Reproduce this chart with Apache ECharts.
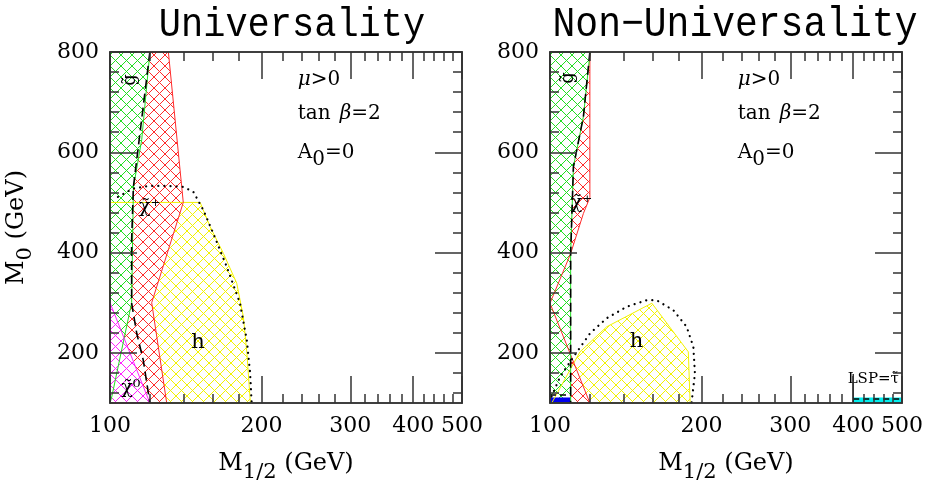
<!DOCTYPE html>
<html><head><meta charset="utf-8">
<script src="https://cdn.jsdelivr.net/npm/echarts@6/dist/echarts.min.js"></script>
<style>html,body{margin:0;padding:0;background:#fff}#c{width:927px;height:485px}</style>
</head><body><div id="c"></div>
<script>
// ---------- tick labels ----------
const xMajorTicks = [100, 200, 300, 400, 500];
const xMinorTicks = [120, 140, 160, 180, 220, 240, 260, 280, 320, 340, 360, 380, 420, 440, 460, 480];
const yMajorTicks = [200, 400, 600, 800];
const yMinorTicks = [120, 160, 240, 280, 320, 360, 440, 480, 520, 560, 640, 680, 720, 760];
const panelTitles = ['Universality', 'Non\u2212Universality'];

// ---------- Universality panel (M1/2, M0) ----------
const uniYellow = [[100,500],[151,500],[158,452],[168,398],[178.5,339],[184,272],[187,199],[190,100],[100,100]];
const uniRed = [[100,800],[130.6,800],[139.8,500],[121,300],[129.6,100],[100,100]];
const uniGreen = [[100,800],[120,800],[115.6,625],[111.3,530],[110.4,300],[100.8,112],[100,100]];
const uniMagenta = [[100,300],[120,100],[100,100]];
const uniDashed = [[120,800],[116.4,691],[111.3,531],[110.4,425],[110.4,299],[113,239],[116.4,186],[120,100]];
const uniDotted = [[103.7,511],[111.2,528],[120,533],[129.6,533],[139.8,531],[146.4,521],[153.2,485],[160.4,438],[170.5,372],[181.2,299],[186.9,226],[189.8,159],[191.1,100]];

// ---------- Non-Universality panel ----------
const nonYellow = [[100.8,100],[114.7,202],[129.6,252],[159.3,299],[188.2,202],[189.8,100]];
const nonRed = [[100,800],[120,800],[120,510],[116.5,478],[109.9,398],[100,299],[120,100],[100,100]];
const nonGreen = [[100,800],[120.1,800],[116.5,671],[111.3,571],[109.9,398],[109.9,100],[100,100]];
const nonBlue = [[100,100],[109.9,100],[109.9,111],[100,111]];
const nonCyan = [[400,100],[500,100],[500,111],[400,111]];
const nonDashed = [[120,800],[116.5,671],[111.3,571],[109.9,398],[109.9,100]];
const nonDotted = [[100.7,113],[104.7,152],[111.3,192],[120.1,239],[129.6,269],[142,292],[155.6,305],[162.8,305],[175.8,285],[186.8,252],[192.6,212],[194,159],[191,100]];
const nonStauDashed = [[400,108],[500,108]];
const nonStauEdge = [[400,100],[400,158]];
const nonBlueDashed = [[100,116],[109.9,116]];

// ---------- label anchor positions (data coords) ----------
const paramTextPos = [[236,744],[236,676],[236,586]];
const uniGluinoPos = [109.6,744], uniCharPos = [120,491], uniHPos = [149.5,221], uniNeutPos = [110,130];
const nonGluinoPos = [108.6,748], nonCharPos = [115.5,499], nonHPos = [148.6,222], nonLspPos = [390,148];

const SERIF = '"DejaVu Serif", "Liberation Serif", serif';
const AXC = '#333';

function hatch(color) {
  const s = 11, c = document.createElement('canvas');
  c.width = s; c.height = s;
  const g = c.getContext('2d');
  g.fillStyle = '#fff'; g.fillRect(0, 0, s, s);
  g.strokeStyle = color; g.lineWidth = 1;
  g.beginPath();
  g.moveTo(-1, -1); g.lineTo(s + 1, s + 1);
  g.moveTo(s + 1, -1); g.lineTo(-1, s + 1);
  g.stroke();
  return { image: c, repeat: 'repeat' };
}

function polyFill(pts, fill, xi, yi, z) {
  return { type: 'custom', xAxisIndex: xi, yAxisIndex: yi, z: z, silent: true, data: pts,
    renderItem: (p, api) => p.dataIndex !== 0 ? null : {
      type: 'polygon', shape: { points: pts.map(d => api.coord(d)) },
      style: { fill: fill, stroke: null } } };
}
function outline(pts, color, xi, yi, z, closed) {
  const d = closed ? pts.concat([pts[0]]) : pts;
  return { type: 'line', xAxisIndex: xi, yAxisIndex: yi, z: z, silent: true, symbol: 'none', data: d,
    lineStyle: { color: color, width: 1 }, animation: false };
}
function styledLine(pts, xi, yi, style) {
  return { type: 'line', xAxisIndex: xi, yAxisIndex: yi, z: 6, silent: true, symbol: 'none', data: pts,
    lineStyle: style, animation: false };
}
function labels(items, xi, yi) {
  return { type: 'custom', xAxisIndex: xi, yAxisIndex: yi, z: 8, silent: true, clip: false,
    data: items.map(it => it.pos),
    renderItem: (p, api) => {
      const it = items[p.dataIndex];
      const c = api.coord(it.pos);
      return { type: 'text', x: c[0], y: c[1], rotation: it.rot || 0,
        style: Object.assign({ text: it.text, font: '20px ' + SERIF, fill: '#000',
          align: it.align || 'center', verticalAlign: 'middle' }, it.style || {}) };
    } };
}

const rich = {
  m: { fontFamily: SERIF, fontSize: 24, color: '#000', height: 26, lineHeight: 26, verticalAlign: 'top' },
  s: { fontFamily: SERIF, fontSize: 21, color: '#000', height: 44, lineHeight: 44, verticalAlign: 'top' }
};
const paramRich = {
  t: { fontFamily: SERIF, fontSize: 20, color: '#000', height: 22, lineHeight: 22, verticalAlign: 'top' },
  w: { fontFamily: SERIF, fontSize: 20, color: '#000', height: 22, lineHeight: 22, verticalAlign: 'top', width: 42 },
  i: { fontFamily: SERIF, fontSize: 20, fontStyle: 'italic', color: '#000', height: 22, lineHeight: 22, verticalAlign: 'top' },
  s: { fontFamily: SERIF, fontSize: 20, color: '#000', height: 36, lineHeight: 36, verticalAlign: 'top' }
};

function paramItems() {
  return [
    { pos: paramTextPos[0], text: '{i|\u03bc}{t|>0}', align: 'left', style: { rich: paramRich } },
    { pos: paramTextPos[1], text: '{w|tan}{i|\u03b2}{t|=2}', align: 'left', style: { rich: paramRich } },
    { pos: paramTextPos[2], text: '{t|A}{s|0}{t|=0}', align: 'left', style: { rich: paramRich } }
  ];
}

const grids = [
  { left: 110, top: 52, width: 352, height: 351, outerBoundsMode: 'none' },
  { left: 550, top: 52, width: 352, height: 351, outerBoundsMode: 'none' }
];

const xAxes = [], yAxes = [];
[0, 1].forEach(gi => {
  const xb = { type: 'log', logBase: 10, min: 100, max: 500, gridIndex: gi, z: 10,
    splitLine: { show: false }, axisLine: { show: true, lineStyle: { color: AXC, width: 1.5 } } };
  const tk = (vals, len) => ({ show: true, inside: true, length: len, customValues: vals, lineStyle: { color: AXC, width: 1.5 } });
  xAxes.push(Object.assign({}, xb, { position: 'bottom', axisTick: tk(xMajorTicks, 27),
    axisLabel: { show: true, customValues: xMajorTicks, margin: 12, fontFamily: SERIF, fontSize: 22, color: '#000',
      formatter: v => String(Math.round(v)) },
    name: '{m|M}{s|1/2}{m| (GeV)}', nameLocation: 'middle', nameGap: 48, nameTextStyle: { rich: rich } }));
  xAxes.push(Object.assign({}, xb, { position: 'top', axisTick: tk(xMajorTicks, 27), axisLabel: { show: false } }));
  xAxes.push(Object.assign({}, xb, { position: 'bottom', axisTick: tk(xMinorTicks, 9), axisLabel: { show: false } }));
  xAxes.push(Object.assign({}, xb, { position: 'top', axisTick: tk(xMinorTicks, 9), axisLabel: { show: false } }));

  const yb = { type: 'value', min: 100, max: 800, gridIndex: gi, z: 10,
    splitLine: { show: false }, axisLine: { show: true, lineStyle: { color: AXC, width: 1.5 } } };
  const ya = Object.assign({}, yb, { position: 'left', axisTick: tk(yMajorTicks, 27),
    axisLabel: { show: true, customValues: yMajorTicks, margin: 11, fontFamily: SERIF, fontSize: 22, color: '#000' } });
  if (gi === 0) Object.assign(ya, { name: '{m|M}{s|0}{m| (GeV)}', nameLocation: 'middle', nameGap: 62, nameRotate: 90,
    nameTextStyle: { rich: rich } });
  yAxes.push(ya);
  yAxes.push(Object.assign({}, yb, { position: 'right', axisTick: tk(yMajorTicks, 27), axisLabel: { show: false } }));
  yAxes.push(Object.assign({}, yb, { position: 'left', axisTick: tk(yMinorTicks, 9), axisLabel: { show: false } }));
  yAxes.push(Object.assign({}, yb, { position: 'right', axisTick: tk(yMinorTicks, 9), axisLabel: { show: false } }));
});

const GREEN = '#22dd22', RED = '#ff2a2a', YELLOW = '#f2f200', MAGENTA = '#ff22ff';
const dashed = { color: '#000', width: 1.6, type: [9, 5] };
const dotted = { color: '#000', width: 2.2, type: [0.1, 6], cap: 'round' };

const series = [
  // Universality
  polyFill(uniYellow, hatch(YELLOW), 0, 0, 1),
  polyFill(uniRed, hatch(RED), 0, 0, 1),
  polyFill(uniGreen, hatch(GREEN), 0, 0, 1),
  polyFill(uniMagenta, hatch(MAGENTA), 0, 0, 1),
  outline(uniYellow, YELLOW, 0, 0, 3, true),
  outline(uniRed, RED, 0, 0, 3, true),
  outline(uniGreen, GREEN, 0, 0, 3, true),
  outline(uniMagenta, MAGENTA, 0, 0, 3, true),
  styledLine(uniDashed, 0, 0, dashed),
  styledLine(uniDotted, 0, 0, dotted),
  labels(paramItems().concat([
    { pos: uniGluinoPos, text: 'g\u0303', rot: Math.PI / 2, style: { font: '18px ' + SERIF } },
    { pos: uniCharPos, text: '\u03c7\u0303\u207a', style: { font: '19px ' + SERIF } },
    { pos: uniHPos, text: 'h', style: { font: '21px ' + SERIF } },
    { pos: uniNeutPos, text: '\u03c7\u0303\u2070', style: { font: '19px ' + SERIF } }
  ]), 0, 0),
  // Non-Universality
  polyFill(nonYellow, hatch(YELLOW), 4, 4, 1),
  polyFill(nonRed, hatch(RED), 4, 4, 1),
  polyFill(nonGreen, hatch(GREEN), 4, 4, 1),
  polyFill(nonBlue, '#0000ee', 4, 4, 1),
  polyFill(nonCyan, '#00eeee', 4, 4, 1),
  outline(nonYellow, YELLOW, 4, 4, 3, true),
  outline(nonRed, RED, 4, 4, 3, true),
  outline(nonGreen, GREEN, 4, 4, 3, true),
  styledLine(nonDashed, 4, 4, dashed),
  styledLine(nonDotted, 4, 4, dotted),
  styledLine(nonStauDashed, 4, 4, { color: '#000', width: 1.5, type: [6, 4] }),
  styledLine(nonBlueDashed, 4, 4, { color: '#000', width: 1.5, type: [6, 4] }),
  styledLine(nonStauEdge, 4, 4, { color: '#000', width: 1.2 }),
  labels(paramItems().concat([
    { pos: nonGluinoPos, text: 'g\u0303', rot: Math.PI / 2, style: { font: '18px ' + SERIF } },
    { pos: nonCharPos, text: '\u03c7\u0303\u207a', style: { font: '19px ' + SERIF } },
    { pos: nonHPos, text: 'h', style: { font: '21px ' + SERIF } },
    { pos: nonLspPos, text: 'LSP=\u03c4\u0303', align: 'left', style: { font: '15px ' + SERIF } }
  ]), 4, 4)
];

const chart = echarts.init(document.getElementById('c'), null, { renderer: 'canvas' });
chart.setOption({
  animation: false,
  backgroundColor: '#fff',
  grid: grids,
  xAxis: xAxes,
  yAxis: yAxes,
  graphic: [
    { type: 'text', x: 292, y: 25, scaleY: 1.1, style: { text: panelTitles[0], font: '37px "Liberation Mono", monospace', fill: '#000', align: 'center', verticalAlign: 'middle' } },
    { type: 'text', x: 735, y: 25, scaleY: 1.1, style: { text: panelTitles[1], font: '38px "Liberation Mono", monospace', fill: '#000', align: 'center', verticalAlign: 'middle' } }
  ],
  series: series
});
</script>
</body></html>
